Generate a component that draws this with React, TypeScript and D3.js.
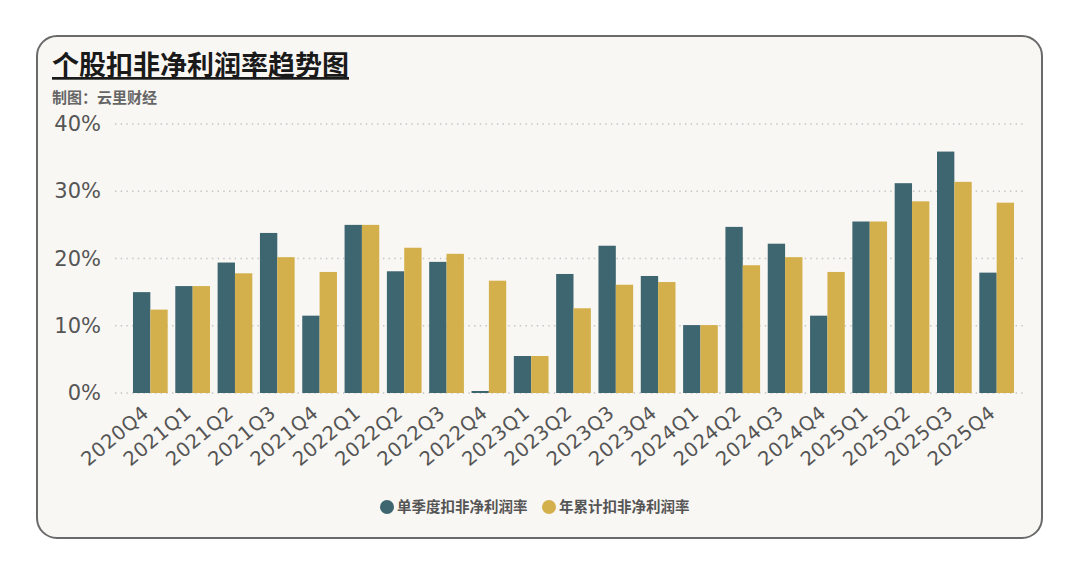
import { useEffect, useRef } from "react";
import * as d3 from "d3";

const quarters = [
  "2020Q4",
  "2021Q1", "2021Q2", "2021Q3", "2021Q4",
  "2022Q1", "2022Q2", "2022Q3", "2022Q4",
  "2023Q1", "2023Q2", "2023Q3", "2023Q4",
  "2024Q1", "2024Q2", "2024Q3", "2024Q4",
  "2025Q1", "2025Q2", "2025Q3", "2025Q4",
];

// 单季度扣非净利润率 (%)
const quarterly = [
  15.0,
  15.9, 19.4, 23.8, 11.5,
  25.0, 18.1, 19.5, 0.3,
  5.5, 17.7, 21.9, 17.4,
  10.1, 24.7, 22.2, 11.5,
  25.5, 31.2, 35.9, 17.9,
];

// 年累计扣非净利润率 (%)
const cumulative = [
  12.4,
  15.9, 17.8, 20.2, 18.0,
  25.0, 21.6, 20.7, 16.7,
  5.5, 12.6, 16.1, 16.5,
  10.1, 19.0, 20.2, 18.0,
  25.5, 28.5, 31.4, 28.3,
];

const yTicks = [0, 10, 20, 30, 40];
const seriesNames = ["单季度扣非净利润率", "年累计扣非净利润率"];
const colors = ["#3e6670", "#d3b04b"];

const W = 1080;
const H = 574;
const CJK = "'Noto Sans CJK SC', 'Noto Sans', sans-serif";
const LATIN = "'DejaVu Sans', Verdana, sans-serif";

export default function App() {
  const svgRef = useRef<SVGSVGElement>(null);

  useEffect(() => {
    const svg = d3.select(svgRef.current);
    svg.selectAll("*").remove();

    // card
    svg.append("rect").attr("width", W).attr("height", H).attr("fill", "#ffffff");
    svg
      .append("rect")
      .attr("x", 37)
      .attr("y", 36)
      .attr("width", 1005)
      .attr("height", 502)
      .attr("rx", 20)
      .attr("fill", "#f9f7f4")
      .attr("stroke", "#6a6a6a")
      .attr("stroke-width", 2);

    // title
    svg
      .append("text")
      .attr("x", 52)
      .attr("y", 75)
      .attr("font-family", CJK)
      .attr("font-weight", 700)
      .attr("font-size", 27)
      .attr("fill", "#1a1a1a")
      .attr("text-decoration", "underline")
      .text("个股扣非净利润率趋势图");
    svg
      .append("text")
      .attr("x", 52)
      .attr("y", 103)
      .attr("font-family", CJK)
      .attr("font-weight", 700)
      .attr("font-size", 15)
      .attr("fill", "#666")
      .text("制图：云里财经");

    const x = d3
      .scaleBand<string>()
      .domain(quarters)
      .range([115, 1032])
      .paddingInner(0.18)
      .paddingOuter(0.425);
    const x1 = d3
      .scaleBand<number>()
      .domain([0, 1])
      .range([0, x.bandwidth()]);
    const y = d3.scaleLinear().domain([0, 40]).range([393, 124]);

    // grid
    svg
      .append("g")
      .selectAll("line")
      .data(yTicks)
      .join("line")
      .attr("x1", 115)
      .attr("x2", 1025)
      .attr("y1", (d) => y(d))
      .attr("y2", (d) => y(d))
      .attr("stroke", "#c4c4c4")
      .attr("stroke-width", 1.3)
      .attr("stroke-dasharray", "1.4 4.3");

    // y labels
    svg
      .append("g")
      .selectAll("text")
      .data(yTicks)
      .join("text")
      .attr("x", 101)
      .attr("y", (d) => y(d) + 7)
      .attr("text-anchor", "end")
      .attr("font-family", LATIN)
      .attr("font-size", 21)
      .attr("fill", "#555")
      .text((d) => `${d}%`);

    // bars
    const series = [quarterly, cumulative];
    series.forEach((vals, si) => {
      svg
        .append("g")
        .selectAll("rect")
        .data(quarters)
        .join("rect")
        .attr("x", (q) => (x(q) ?? 0) + (x1(si) ?? 0))
        .attr("width", x1.bandwidth())
        .attr("y", (_q, i) => y(vals[i]))
        .attr("height", (_q, i) => y(0) - y(vals[i]))
        .attr("fill", colors[si]);
    });

    // x labels
    svg
      .append("g")
      .selectAll("text")
      .data(quarters)
      .join("text")
      .attr("transform", (q) => {
        const cx = (x(q) ?? 0) + x.bandwidth() / 2;
        return `translate(${cx},${415}) rotate(-40)`;
      })
      .attr("text-anchor", "end")
      .attr("font-family", LATIN)
      .attr("font-size", 19.5)
      .attr("letter-spacing", 0.6)
      .attr("fill", "#555")
      .text((q) => q);

    // legend
    const legend = svg.append("g");
    const items = [
      { cx: 387, tx: 397 },
      { cx: 549, tx: 559 },
    ];
    items.forEach((it, i) => {
      legend
        .append("circle")
        .attr("cx", it.cx)
        .attr("cy", 507)
        .attr("r", 7)
        .attr("fill", colors[i]);
      legend
        .append("text")
        .attr("x", it.tx)
        .attr("y", 512)
        .attr("font-family", CJK)
        .attr("font-weight", 700)
        .attr("font-size", 14.5)
        .attr("fill", "#555")
        .text(seriesNames[i]);
    });
  }, []);

  return (
    <div style={{ margin: -8 }}>
      <svg ref={svgRef} width={W} height={H} style={{ display: "block" }} />
    </div>
  );
}
